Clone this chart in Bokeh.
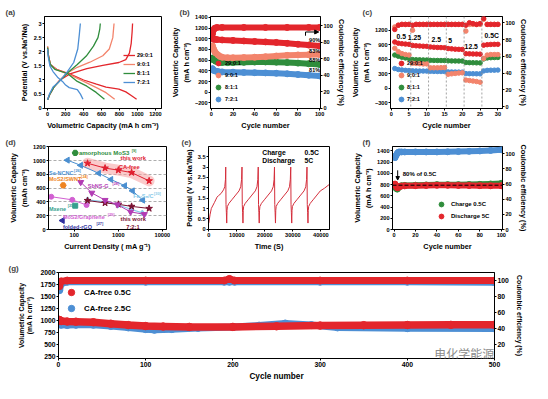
import math
from bokeh.plotting import figure
from bokeh.models import (Range1d, LinearAxis, FixedTicker, Label, Arrow, NormalHead,
                          Span, Legend, LegendItem, BasicTickFormatter)
from bokeh.layouts import row, column
from bokeh.embed import file_html
from bokeh.resources import INLINE

FONT = "Liberation Sans"
RED = "#e3262c"; PINK = "#f3846c"; GREEN = "#2f8d3c"; BLUE = "#4d8fd4"

# ===================== DATA =====================
# (a) charge / discharge profiles
a_labels = ["29:0:1", "9:0:1", "8:1:1", "7:2:1"]
a_red_chg_cap = [0, 25, 70, 130, 257, 436, 614, 793, 870, 910, 930, 940, 945]
a_red_chg_v = [0.3, 0.5, 0.75, 0.98, 1.23, 1.4, 1.52, 1.62, 1.72, 1.95, 2.3, 2.7, 3.0]
a_red_dis_cap = [0, 8, 30, 100, 257, 400, 543, 650, 793, 870, 930, 990]
a_red_dis_v = [2.15, 1.9, 1.55, 1.38, 1.2, 1.0, 0.85, 0.75, 0.68, 0.58, 0.45, 0.32]
a_pink_chg_cap = [0, 25, 70, 130, 220, 330, 470, 614, 686, 725, 739]
a_pink_chg_v = [0.3, 0.5, 0.75, 0.98, 1.25, 1.45, 1.63, 1.86, 2.1, 2.5, 3.0]
a_pink_dis_cap = [0, 8, 30, 90, 257, 400, 543, 650, 746]
a_pink_dis_v = [2.2, 1.9, 1.55, 1.38, 1.17, 0.95, 0.73, 0.55, 0.32]
a_green_chg_cap = [0, 25, 70, 130, 220, 330, 430, 510, 560, 580, 586]
a_green_chg_v = [0.3, 0.5, 0.75, 0.95, 1.25, 1.55, 1.85, 2.2, 2.5, 2.8, 3.0]
a_green_dis_cap = [0, 8, 30, 80, 220, 330, 436, 540, 632]
a_green_dis_v = [2.15, 1.85, 1.55, 1.38, 1.23, 0.95, 0.78, 0.56, 0.32]
a_blue_chg_cap = [0, 20, 60, 115, 170, 220, 290, 335, 352, 364]
a_blue_chg_v = [0.3, 0.5, 0.75, 0.9, 1.1, 1.3, 1.62, 2.1, 2.6, 3.0]
a_blue_dis_cap = [0, 8, 25, 60, 110, 165, 200, 240, 330, 365, 393]
a_blue_dis_v = [2.1, 1.8, 1.5, 1.3, 1.1, 0.95, 0.82, 0.73, 0.66, 0.5, 0.32]
a_xticks = [0, 200, 400, 600, 800, 1000, 1200]
a_yticks = [0.0, 0.5, 1.0, 1.5, 2.0, 2.5, 3.0]

# (b) cycling at 0.5C
b_red_cyc = [1, 2, 3, 5, 10, 20, 30, 40, 50, 60, 70, 80, 90, 100]
b_red_cap = [1010, 995, 990, 985, 978, 970, 960, 950, 942, 932, 915, 898, 882, 865]
b_pink_cyc = [1, 2, 3, 4, 6, 8, 10, 15, 20, 30, 40, 50, 60, 70, 80, 90, 100]
b_pink_cap = [870, 810, 765, 735, 700, 670, 655, 645, 645, 648, 655, 665, 678, 690, 698, 703, 705]
b_green_cyc = [1, 2, 4, 6, 8, 10, 15, 20, 30, 40, 50, 60, 70, 80, 90, 100]
b_green_cap = [640, 605, 580, 568, 562, 558, 555, 556, 560, 565, 567, 563, 555, 545, 533, 520]
b_blue_cyc = [1, 2, 4, 6, 10, 20, 30, 40, 50, 60, 70, 80, 90, 100]
b_blue_cap = [440, 410, 395, 388, 380, 375, 370, 366, 362, 355, 345, 332, 318, 305]
b_ce_cyc = [1, 2, 3, 5, 10, 30, 50, 70, 90, 100]
b_ce = [90, 95, 97, 98, 98, 98, 98, 98, 98, 98]
b_retention = ["90%", "83%", "88%", "81%"]
b_yticks = [-200, 0, 200, 400, 600, 800, 1000, 1200, 1400]
b_xticks = [0, 20, 40, 60, 80, 100]
ce_ticks = [0, 20, 40, 60, 80, 100]

# (c) rate performance
c_cyc = list(range(1, 31))
c_red = [960, 935, 925, 918, 912, 890, 882, 878, 873, 870, 858, 852, 848, 845, 842,
         825, 818, 812, 808, 806, 718, 715, 712, 710, 708, 895, 905, 910, 912, 912]
c_pink = [830, 760, 720, 700, 690, 520, 515, 510, 505, 505, 425, 425, 425, 428, 430,
          290, 300, 308, 315, 320, 170, 160, 150, 140, 125, 620, 690, 700, 700, 700]
c_green = [690, 665, 645, 630, 620, 595, 592, 590, 588, 586, 580, 578, 577, 576, 575,
           570, 568, 567, 566, 565, 535, 532, 530, 528, 527, 610, 630, 635, 638, 640]
c_blue = [410, 390, 380, 372, 368, 362, 360, 358, 357, 356, 352, 350, 349, 348, 348,
          340, 338, 337, 336, 335, 305, 303, 302, 301, 300, 360, 372, 375, 376, 378]
c_ce_red = [92, 97, 98, 98, 98, 97, 98, 98, 98, 98, 98, 98, 98, 98, 98,
            98, 98, 98, 98, 98, 97, 100, 99, 98, 99, 105, 98, 98, 98, 98]
c_ce_pink = [95, 97, 98, 98, 98, 91, 98, 98, 98, 98, 98, 98, 98, 98, 98,
             98, 98, 98, 98, 98, 90, 98, 98, 98, 98, 104, 98, 98, 98, 98]
c_rate_bounds = [5.5, 10.5, 15.5, 20.5, 25.5]
c_rates = ["0.5", "1.25", "2.5", "5", "12.5", "0.5C"]
c_yticks = [-300, 0, 300, 600, 900, 1200, 1500]
c_xticks = [0, 5, 10, 15, 20, 25, 30]

# (d) comparison with literature
d_cafree_x = [200, 500, 1000, 2000, 5000]; d_cafree_y = [960, 890, 860, 825, 705]
d_721_x = [200, 500, 1000, 2000, 5000]; d_721_y = [420, 385, 365, 335, 305]
d_sencnc_x = [70, 140, 360, 680, 1400, 2100, 3600]; d_sencnc_y = [1005, 930, 815, 725, 635, 560, 425]
d_sbns_x = [140, 250, 500, 950, 1900, 3900]; d_sbns_y = [685, 530, 425, 360, 255, 220]
d_mos2g_x = [30, 90, 190]; d_mos2g_y = [475, 430, 355]
d_fe_x = [200, 500, 1000, 2000, 3500]; d_fe_y = [430, 400, 355, 290, 240]
d_amor_x = [105]; d_amor_y = [1110]
d_swnt_x = [56]; d_swnt_y = [640]
d_mxene_x = [105]; d_mxene_y = [345]
d_rgo_x = [54]; d_rgo_y = [130]
d_yticks = [0, 200, 400, 600, 800, 1000, 1200]
d_xticks = [100, 1000, 10000]

# (e) charge 0.5C / discharge 5C profile
e_t = [0, 450, 900, 2050, 2950, 3450, 4350, 5250, 5700, 5950, 6050,
       6150, 6280, 6400,
       6500, 6650, 7200, 8400, 9600, 10800, 11400, 11700, 11850,
       11950, 12080, 12200,
       12300, 12450, 13000, 14200, 15400, 16600, 17200, 17500, 17650,
       17750, 17880, 18000,
       18100, 18250, 18800, 20000, 21200, 22400, 23000, 23300, 23450,
       23550, 23680, 23800,
       23900, 24050, 24600, 25800, 27000, 28200, 28800, 29100, 29250,
       29350, 29480, 29600,
       29700, 29850, 30400, 31600, 32800, 34000, 34600, 34900, 35050,
       35150, 35280, 35400,
       35500, 35650, 36200, 37400, 38600, 39800, 41300, 42900]
e_v = [0.3, 0.7, 1.0, 1.3, 1.55, 1.62, 1.72, 1.9, 2.05, 2.4, 3.0,
       1.2, 0.8, 0.3,
       0.9, 1.1, 1.25, 1.45, 1.65, 1.85, 2.05, 2.4, 3.0,
       1.2, 0.8, 0.3,
       0.9, 1.1, 1.25, 1.45, 1.65, 1.85, 2.05, 2.4, 3.0,
       1.2, 0.8, 0.3,
       0.9, 1.1, 1.25, 1.45, 1.65, 1.85, 2.05, 2.4, 3.0,
       1.2, 0.8, 0.3,
       0.9, 1.1, 1.25, 1.45, 1.65, 1.85, 2.05, 2.4, 3.0,
       1.2, 0.8, 0.3,
       0.9, 1.1, 1.25, 1.45, 1.65, 1.85, 2.05, 2.4, 3.0,
       1.2, 0.8, 0.3,
       0.9, 1.1, 1.25, 1.45, 1.65, 1.85, 1.98, 2.15]
e_yticks = [0.0, 0.5, 1.0, 1.5, 2.0, 2.5, 3.0, 3.5, 4.0]
e_xticks = [0, 10000, 20000, 30000, 40000]

# (f) charge 0.5C / discharge 5C cycling
f_cyc = [1, 2, 3, 4, 5, 7, 10, 20, 30, 40, 50, 60, 70, 80, 90, 100]
f_chg = [770, 735, 720, 745, 770, 780, 785, 790, 795, 800, 800, 800, 802, 805, 812, 822]
f_dis = [810, 770, 745, 750, 765, 775, 778, 782, 785, 788, 788, 786, 784, 782, 780, 780]
f_ce = [95, 98, 100.5, 102, 102.5, 102.5, 102.5, 102.5, 102.5, 102.5, 102.7, 103, 103.3, 103.8, 104.5, 105.5]
f_ref80 = 790
f_yticks = [0, 200, 400, 600, 800, 1000, 1200, 1400]
f_xticks = [0, 20, 40, 60, 80, 100]

# (g) long cycling of CA-free electrode
g_red_cyc = [1, 3, 10, 20, 40, 60, 80, 100, 120, 150, 200, 250, 300, 350, 400, 450, 500]
g_red_cap = [1010, 985, 975, 972, 960, 930, 900, 880, 870, 862, 862, 875, 890, 898, 902, 905, 908]
g_blue_cyc = [1, 3, 10, 20, 40, 60, 80, 100, 110, 130, 160, 200, 230, 260, 290, 320, 400, 500]
g_blue_cap = [940, 905, 900, 905, 905, 880, 850, 815, 800, 815, 840, 860, 890, 935, 900, 850, 835, 830]
g_ce_cyc = [1, 3, 10, 100, 190, 196, 202, 300, 400, 500]
g_ce_red = [93, 99, 100, 100, 100, 102, 100, 100, 100, 100]
g_ce_blue = [88, 96, 98.5, 98.5, 98.5, 98.5, 98.5, 98.5, 98.5, 98]
g_yticks = [250, 500, 750, 1000, 1250, 1500, 1750, 2000]
g_rticks = [20, 40, 60, 80, 100]
g_xticks = [0, 100, 200, 300, 400, 500]

# ===================== HELPERS =====================
# frames of each panel in reference-image pixels (left, right, top, bottom)
FR = {"a": (46, 168, 17, 113), "b": (215, 336, 15, 113), "c": (406, 526, 17, 117),
      "d": (50, 173, 150, 245), "e": (217, 343, 152, 238), "f": (406, 527, 150, 244),
      "g": (60, 515, 283, 377)}


def fig(w, h, bl, br, bt, bb, xr, yr, letter, loff, xtype="linear"):
    p = figure(width=w, height=h, x_range=Range1d(*xr), y_range=Range1d(*yr),
               x_axis_type=xtype, output_backend="svg", toolbar_location=None,
               title=letter)
    p.min_border_left, p.min_border_right = bl, br
    p.min_border_top, p.min_border_bottom = bt, bb
    p.outline_line_color = "black"
    p.outline_line_width = 1
    p.grid.visible = False
    p.background_fill_color = "white"
    p.border_fill_color = "white"
    p.title.text_font = FONT
    p.title.text_font_size = "8px"
    p.title.text_font_style = "bold"
    p.title.align = "left"
    p.title.offset = loff
    p.title.standoff = 0
    return p


def sty(ax, ticks, label, tfs="5.6px", lfs="7.3px", lstand=2):
    ax.ticker = FixedTicker(ticks=ticks)
    ax.axis_label = label
    ax.major_label_text_font = FONT
    ax.major_label_text_font_style = "bold"
    ax.major_label_text_font_size = tfs
    ax.major_label_text_color = "black"
    ax.axis_label_text_font = FONT
    ax.axis_label_text_font_style = "bold"
    ax.axis_label_text_font_size = lfs
    ax.axis_label_text_color = "black"
    ax.axis_label_standoff = lstand
    ax.major_label_standoff = 1
    ax.major_tick_in = 0
    ax.major_tick_out = 2
    ax.minor_tick_line_color = None
    ax.axis_line_color = "black"
    ax.major_tick_line_color = "black"


def right_axis(p, rng, ticks, label, **kw):
    p.extra_y_ranges = {"ce": Range1d(*rng)}
    ax = LinearAxis(y_range_name="ce")
    sty(ax, ticks, label, **kw)
    p.add_layout(ax, "right")
    return ax


def ref_xy(p, key, rx, ry, log=False):
    L, R, T, B = FR[key]
    fx = (rx - L) / (R - L)
    fy = (B - ry) / (B - T)
    x0, x1 = p.x_range.start, p.x_range.end
    if log:
        x = 10 ** (math.log10(x0) + fx * (math.log10(x1) - math.log10(x0)))
    else:
        x = x0 + fx * (x1 - x0)
    y = p.y_range.start + fy * (p.y_range.end - p.y_range.start)
    return x, y


def note(p, key, rx, ry, text, size="6px", color="black", align="left",
         style="bold", font=FONT, log=False):
    x, y = ref_xy(p, key, rx, ry, log)
    p.add_layout(Label(x=x, y=y, text=text, text_font=font, text_font_size=size,
                       text_font_style=style, text_color=color, text_align=align,
                       text_baseline="middle"))


def band(p, x, y, color, w, **kw):
    p.line(x, y, line_color=color, line_width=w, line_join="round", line_cap="round", **kw)
    return p.scatter(x, y, size=w, color=color, **kw)


def legend(p, items, loc, gw, gh, sp, stand, fs="5.5px"):
    lg = Legend(items=[LegendItem(label=l, renderers=[r]) for l, r in items],
                location=loc, glyph_width=gw, glyph_height=gh, spacing=sp,
                label_standoff=stand, label_height=gh, label_width=10,
                padding=0, margin=0, border_line_color=None, background_fill_alpha=0,
                label_text_font=FONT, label_text_font_style="bold",
                label_text_font_size=fs, label_text_color="black")
    p.add_layout(lg)


# ===================== (a) =====================
pa = fig(168, 133, 44, 7, 16, 25, (-35, 1267), (-0.01, 3.25), "(a)", -39)
sty(pa.xaxis[0], a_xticks, "Volumetric Capacity (mA h cm\u207b\u00b3)")
sty(pa.yaxis[0], a_yticks, "Potential (V vs.Na\u207a/Na)")
ra = []
for cx, cy, dx, dy, col in [
        (a_red_chg_cap, a_red_chg_v, a_red_dis_cap, a_red_dis_v, RED),
        (a_pink_chg_cap, a_pink_chg_v, a_pink_dis_cap, a_pink_dis_v, PINK),
        (a_green_chg_cap, a_green_chg_v, a_green_dis_cap, a_green_dis_v, GREEN),
        (a_blue_chg_cap, a_blue_chg_v, a_blue_dis_cap, a_blue_dis_v, BLUE)]:
    r = pa.line(cx, cy, line_color=col, line_width=1.3)
    pa.line(dx, dy, line_color=col, line_width=1.3)
    ra.append(r)
legend(pa, list(zip(a_labels, ra)), (79, 22), 12, 8, 1, 2)

# ===================== (b) =====================
pb = fig(180, 133, 38, 26, 14, 25, (-0.8, 100.8), (-304, 1417), "(b)", -31)
sty(pb.xaxis[0], b_xticks, "Cycle number")
sty(pb.yaxis[0], b_yticks, "Volumetric Capacity\n(mA h cm\u207b\u00b3)", lstand=1)
right_axis(pb, (-0.3, 111.3), ce_ticks, "Coulombic efficiency (%)", lstand=1)
band(pb, b_ce_cyc, b_ce, RED, 6, y_range_name="ce")
rb_blue = band(pb, b_blue_cyc, b_blue_cap, BLUE, 6)
rb_green = band(pb, b_green_cyc, b_green_cap, GREEN, 6)
rb_pink = band(pb, b_pink_cyc, b_pink_cap, PINK, 6)
rb_red = band(pb, b_red_cyc, b_red_cap, RED, 6)
legend(pb, list(zip(a_labels, [rb_red, rb_pink, rb_green, rb_blue])), (2, 3), 12, 12, -4, 1)
for txt, ry in zip(b_retention, [40, 51.7, 61.7, 71.7]):
    note(pb, "b", 329.5, ry, txt, size="5.5px", align="center")
x1, y1 = ref_xy(pb, "b", 319.5, 35.5)
x2, y2 = ref_xy(pb, "b", 319.5, 31.5)
x3, y3 = ref_xy(pb, "b", 334, 31.5)
pb.add_layout(Arrow(end=None, x_start=x1, y_start=y1, x_end=x2, y_end=y2, line_width=1))
pb.add_layout(Arrow(end=NormalHead(size=4, line_color="black", fill_color="black", line_width=1),
                    x_start=x2, y_start=y2, x_end=x3, y_end=y3, line_width=1))

# ===================== (c) =====================
pc = fig(182, 133, 42, 25, 16, 21, (-0.2, 31.3), (-420, 1490), "(c)", -28)
sty(pc.xaxis[0], c_xticks, "Cycle number")
sty(pc.yaxis[0], c_yticks, "Volumetric Capacity\n(mA h cm\u207b\u00b3)", lstand=1)
right_axis(pc, (-2.2, 107.4), ce_ticks, "Coulombic efficiency (%)", lstand=1)
for v in c_rate_bounds:
    pc.add_layout(Span(location=v, dimension="height", line_color="#8c8c8c",
                       line_dash="2 2", line_width=0.8))
pc.scatter(c_cyc, c_ce_pink, size=4.5, color=PINK, y_range_name="ce")
pc.scatter(c_cyc, c_ce_red, size=4.5, color=RED, y_range_name="ce")
rc_blue = pc.scatter(c_cyc, c_blue, size=4.5, color=BLUE)
rc_green = pc.scatter(c_cyc, c_green, size=4.5, color=GREEN)
rc_pink = pc.scatter(c_cyc, c_pink, size=4.5, color=PINK)
rc_red = pc.scatter(c_cyc, c_red, size=4.5, color=RED)
legend(pc, list(zip(a_labels, [rc_red, rc_pink, rc_green, rc_blue])), (5, 3), 12, 12, -4, 0)
for txt, (rx, ry) in zip(c_rates, [(417.5, 38.3), (431.7, 40), (455, 41.7), (470, 42.7),
                                   (492.5, 50), (514.5, 37.3)]):
    note(pc, "c", rx, ry, txt, size="6.8px", align="center")

# ===================== (d) =====================
pd_ = fig(180, 127, 48, 14, 11, 25, (26, 12400), (0, 1203), "(d)", -43, xtype="log")
sty(pd_.xaxis[0], d_xticks, "Current Density ( mA g\u207b\u00b9)")
pd_.xaxis[0].formatter = BasicTickFormatter()
sty(pd_.yaxis[0], d_yticks, "Volumetric Capacity\n(mAh cm\u207b\u00b3)", lstand=1)
pd_.ygrid.visible = True
pd_.ygrid.ticker = FixedTicker(ticks=[200, 400, 600, 800, 1000])
pd_.ygrid.grid_line_color = "#8a8a8a"
pd_.ygrid.grid_line_dash = "3 2"
pd_.ygrid.grid_line_width = 0.7
pd_.line(d_cafree_x, d_cafree_y, line_color="#f5a0a0", line_width=11, line_alpha=0.55, line_cap="round")
pd_.line(d_mos2g_x, d_mos2g_y, line_color="#d260d2", line_width=1)
pd_.scatter(d_mos2g_x, d_mos2g_y, marker="circle", size=5, color="#d260d2")
pd_.line(d_fe_x, d_fe_y, line_color="#86c9e8", line_width=1.2)
pd_.scatter(d_fe_x, d_fe_y, marker="diamond", size=6, color="#86c9e8")
pd_.line(d_721_x, d_721_y, line_color="#7a1030", line_width=1)
pd_.scatter(d_721_x, d_721_y, marker="star", size=7, color="#7a1030")
pd_.line(d_sencnc_x, d_sencnc_y, line_color="#4a8fd0", line_width=1)
pd_.scatter(d_sencnc_x, d_sencnc_y, marker="triangle", angle=math.pi / 2, size=6, color="#4a8fd0")
pd_.line(d_sbns_x, d_sbns_y, line_color="#b23cb4", line_width=1)
pd_.scatter(d_sbns_x, d_sbns_y, marker="inverted_triangle", size=6, color="#b23cb4")
pd_.line(d_cafree_x, d_cafree_y, line_color="#e02030", line_width=1)
pd_.scatter(d_cafree_x, d_cafree_y, marker="star", size=7, color="#e02030")
pd_.scatter(d_amor_x, d_amor_y, marker="hex", size=6, color="#2f8d3c")
pd_.scatter(d_swnt_x, d_swnt_y, marker="hex", size=6, color="#ef8420")
pd_.scatter(d_mxene_x, d_mxene_y, marker="square", size=5, color="#35a08e")
pd_.scatter(d_rgo_x, d_rgo_y, marker="triangle", angle=math.pi / 2, size=6, color="#2f2f9e")
for rx, ry, txt, col, fs in [
        (81.7, 157.3, "amorphous MoS3", "#2f8d3c", "6px"),
        (125, 163.3, "this work", "#e02030", "5.8px"),
        (123.3, 173.3, "CA-free", "#e02030", "5.8px"),
        (50.5, 180, "Se-NCNC", "#4a8fd0", "5.5px"),
        (50.5, 187.7, "MoS2/SWNT", "#ef8420", "5.5px"),
        (91, 195, "SbNS-G", "#b23cb4", "5.5px"),
        (138.3, 206.7, "Fe\u2087S\u2088/C", "#86c9e8", "5.5px"),
        (50.5, 221, "Mxene", "#35a08e", "5.5px"),
        (65, 231, "MoS2/Graphene", "#d260d2", "5.5px"),
        (125, 232.5, "this work", "#7a1030", "5.8px"),
        (65, 241.7, "folded-rGO", "#2f2f9e", "5.5px"),
        (131, 242.3, "7:2:1", "#7a1030", "5.8px")]:
    note(pd_, "d", rx, ry, txt, size=fs, color=col, log=True)
for rx, ry, txt, col in [
        (136.7, 155, "[9]", "#2f8d3c"), (76.7, 177.5, "[26]", "#4a8fd0"),
        (84, 185, "[24]", "#ef8420"), (116.7, 192.5, "[28]", "#b23cb4"),
        (160, 204, "[30]", "#86c9e8"), (70, 218.5, "[25]", "#35a08e"),
        (111.7, 228.5, "[29]", "#d260d2"), (100, 239.2, "[27]", "#2f2f9e")]:
    note(pd_, "d", rx, ry, txt, size="3.8px", color=col, log=True)

# ===================== (e) =====================
pe = fig(170, 127, 28, 21, 13, 31, (-100, 43080), (-0.01, 3.99), "(e)", -27)
sty(pe.xaxis[0], e_xticks, "Time (S)")
sty(pe.yaxis[0], e_yticks, "Potential (V vs.Na\u207a/Na)", lstand=1)
pe.line(e_t, e_v, line_color="#d42f3c", line_width=1)
note(pe, "e", 273, 158, "Charge", size="6.8px")
note(pe, "e", 317, 158, "0.5C", size="6.8px")
note(pe, "e", 273, 167, "Discharge", size="6.8px")
note(pe, "e", 317, 167, "5C", size="6.8px")

# ===================== (f) =====================
pf = fig(180, 127, 40, 24, 11, 26, (-1.4, 101.1), (0, 1480), "(f)", -30)
sty(pf.xaxis[0], f_xticks, "Cycle number")
sty(pf.yaxis[0], f_yticks, "Volumetric Capacity\n(mA h cm\u207b\u00b3)", lstand=1)
right_axis(pf, (0, 109.7), ce_ticks, "Coulombic efficiency (%)", lstand=1)
band(pf, f_cyc, f_ce, BLUE, 6, y_range_name="ce")
rf_g = band(pf, f_cyc, f_chg, GREEN, 6)
rf_r = band(pf, f_cyc, f_dis, RED, 6)
pf.add_layout(Span(location=f_ref80, dimension="width", line_color="black",
                   line_dash="4 2", line_width=1))
legend(pf, [("Charge 0.5C", rf_g), ("Discharge 5C", rf_r)], (43, 7), 12, 12, -4, 4, fs="6px")
xa, ya = ref_xy(pf, "f", 411.7, 177)
xb, yb = ref_xy(pf, "f", 411.7, 188)
pf.add_layout(Arrow(end=NormalHead(size=3.5, line_color="black", fill_color="black", line_width=1),
                    x_start=xa, y_start=ya, x_end=xb, y_end=yb, line_width=1))
note(pf, "f", 417.3, 180.7, "80% of 0.5C", size="6px")

# ===================== (g) =====================
pg = fig(530, 123, 58, 36, 12, 21, (0, 500), (198, 2006), "(g)", -50)
sty(pg.xaxis[0], g_xticks, "Cycle number", tfs="6.8px", lfs="8.2px")
sty(pg.yaxis[0], g_yticks, "Volumetric Capacity\n(mA h cm\u207b\u00b3)", tfs="6.8px", lfs="6.8px", lstand=4)
right_axis(pg, (2.3, 110.1), g_rticks, "Coulombic efficiency (%)", tfs="6.8px", lfs="6.8px", lstand=4)
band(pg, g_ce_cyc, g_ce_blue, BLUE, 7, y_range_name="ce")
band(pg, g_ce_cyc, g_ce_red, RED, 7, y_range_name="ce")
rg_b = band(pg, g_blue_cyc, g_blue_cap, BLUE, 7)
rg_r = band(pg, g_red_cyc, g_red_cap, RED, 7.5)
legend(pg, [("CA-free 0.5C", rg_r), ("CA-free 2.5C", rg_b)], (5, 42), 16, 16, -4, 5, fs="7.8px")
note(pg, "g", 452, 372, "\u7535\u5316\u5b66\u80fd\u6e90", size="12px", color="#8d8d8d",
     style="normal", font="Noto Sans CJK SC")

layout = column(row(pa, pb, pc), row(pd_, pe, pf), pg)
open("out.html", "w").write(file_html(layout, INLINE))
